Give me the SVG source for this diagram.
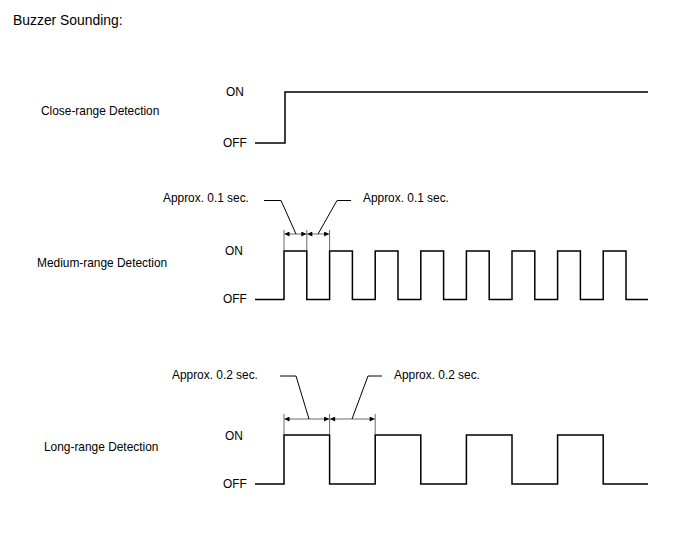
<svg xmlns="http://www.w3.org/2000/svg" width="688" height="560" viewBox="0 0 688 560">
<defs>
<style>
text{font-family:"Liberation Sans",Arial,sans-serif;font-size:11.9px;fill:#000}
.title{font-size:13.9px}
.wave{fill:none;stroke:#000;stroke-width:1.5}
.ext{fill:none;stroke:#444;stroke-width:0.8}
.dim{fill:none;stroke:#444;stroke-width:0.8}
.lead{fill:none;stroke:#000;stroke-width:1}
</style>
<marker id="ah" viewBox="0 0 10 10" refX="10" refY="5" markerWidth="7" markerHeight="5" markerUnits="userSpaceOnUse" orient="auto-start-reverse">
<path d="M0,0 L10,5 L0,10 Z" fill="#000"/>
</marker>
</defs>
<rect width="688" height="560" fill="#fff"/>
<text class="title" x="13" y="25">Buzzer Sounding:</text>

<g id="close">
<text x="41" y="115">Close-range Detection</text>
<text x="226" y="96">ON</text>
<text x="223" y="147">OFF</text>
<path class="wave" d="M255,143 H285 V92 H648"/>
</g>

<g id="medium">
<text x="37" y="267">Medium-range Detection</text>
<text x="225" y="255">ON</text>
<text x="223" y="303">OFF</text>
<path class="wave" d="M255,299.5 H284 V251 H306.8 V299.5 H329.6 V251 H352.4 V299.5 H375.2 V251 H398 V299.5 H420.8 V251 H443.6 V299.5 H466.4 V251 H489.2 V299.5 H512 V251 H534.8 V299.5 H557.6 V251 H580.4 V299.5 H603.2 V251 H626 V299.5 H648"/>
<text x="163" y="202">Approx. 0.1 sec.</text>
<text x="363" y="202">Approx. 0.1 sec.</text>
</g>

<g id="long">
<text x="44" y="451">Long-range Detection</text>
<text x="225" y="440">ON</text>
<text x="223" y="488">OFF</text>
<path class="wave" d="M255,484 H284 V435 H329.6 V484 H375.2 V435 H420.8 V484 H466.4 V435 H512 V484 H557.6 V435 H603.2 V484 H648"/>
<text x="172" y="379">Approx. 0.2 sec.</text>
<text x="394" y="379">Approx. 0.2 sec.</text>
</g>

<g id="connectors">
<path class="ext" d="M284,230 V251 M306.8,230 V251 M329.6,230 V251"/>
<path class="dim" d="M284.5,234 H306.3" marker-start="url(#ah)" marker-end="url(#ah)"/>
<path class="dim" d="M307.3,234 H329.1" marker-start="url(#ah)" marker-end="url(#ah)"/>
<path class="lead" d="M264,200.5 H281 L296,234"/>
<path class="lead" d="M318,234 L337,200.5 H351"/>

<path class="ext" d="M284,414 V435 M329.6,414 V435 M375.2,414 V435"/>
<path class="dim" d="M284.5,419 H329.1" marker-start="url(#ah)" marker-end="url(#ah)"/>
<path class="dim" d="M330.1,419 H374.7" marker-start="url(#ah)" marker-end="url(#ah)"/>
<path class="lead" d="M280,376 H296 L309,419"/>
<path class="lead" d="M352,419 L368,376 H382"/>
</g>
</svg>
